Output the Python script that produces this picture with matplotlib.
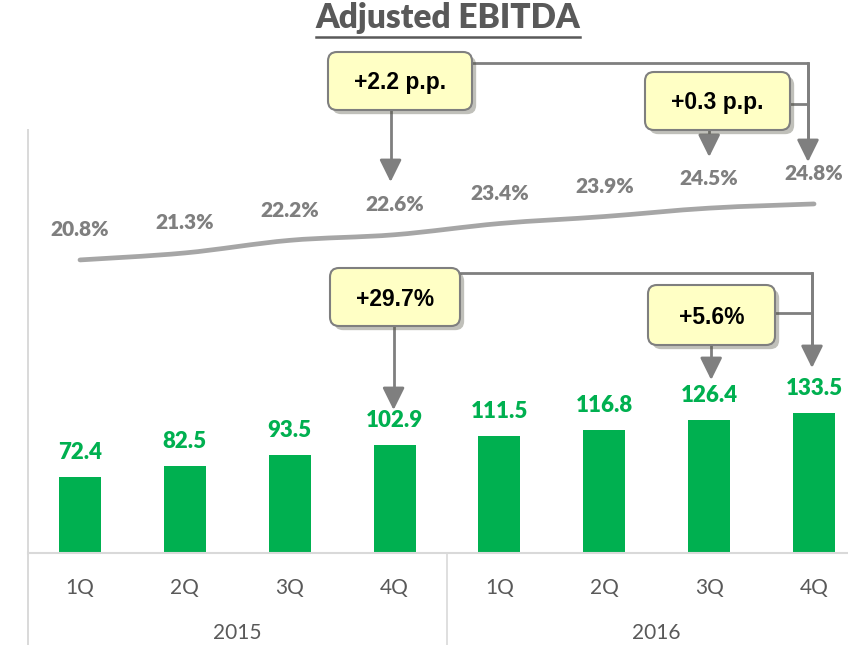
import matplotlib
matplotlib.use("Agg")
import matplotlib.pyplot as plt
from matplotlib.lines import Line2D
from matplotlib.patches import FancyBboxPatch, PathPatch
from matplotlib.path import Path
from matplotlib.transforms import IdentityTransform
import matplotlib.patheffects as pe

# data
quarters = ["1Q", "2Q", "3Q", "4Q", "1Q", "2Q", "3Q", "4Q"]
years = ["2015", "2016"]
ebitda = [72.4, 82.5, 93.5, 102.9, 111.5, 116.8, 126.4, 133.5]
margin = [20.8, 21.3, 22.2, 22.6, 23.4, 23.9, 24.5, 24.8]
callouts = ["+2.2 p.p.", "+0.3 p.p.", "+29.7%", "+5.6%"]

GREEN = "#00B050"
GRAY_LINE = "#A6A6A6"
GRAY_TXT = "#7F7F7F"
DARK_TXT = "#595959"
AXIS_CLR = "#D9D9D9"
BOX_FILL = "#FFFFC5"
W, H = 848, 645

fig = plt.figure(figsize=(W / 100, H / 100), dpi=100)
ax = fig.add_axes([27.57 / W, (H - 553) / H, 838.9 / W, 423 / H])
ax2 = ax.twinx()

x = list(range(len(ebitda)))
ax.bar(x, ebitda, width=0.40, color=GREEN, zorder=2)
ax.set_xlim(-0.5, 7.5)
ax.set_ylim(0, 403)
ax2.set_ylim(-0.13, 30.08)

# smoothed margin line (Catmull-Rom drawn as cubic Bezier through the points)
pts = list(zip(x, margin))
verts = [pts[0]]
codes = [Path.MOVETO]
for k in range(len(pts) - 1):
    p0 = pts[k - 1] if k > 0 else pts[k]
    p1, p2 = pts[k], pts[k + 1]
    p3 = pts[k + 2] if k + 2 < len(pts) else pts[k + 1]
    c1 = (p1[0] + (p2[0] - p0[0]) / 6, p1[1] + (p2[1] - p0[1]) / 6)
    c2 = (p2[0] - (p3[0] - p1[0]) / 6, p2[1] - (p3[1] - p1[1]) / 6)
    verts += [c1, c2, p2]
    codes += [Path.CURVE4] * 3
ax2.add_patch(PathPatch(Path(verts, codes), fill=False, ec=GRAY_LINE, lw=3.4,
                        capstyle="round", joinstyle="round"))

for i, v in enumerate(ebitda):
    ax.annotate(f"{v:.1f}", (i, v), xytext=(0, 13), textcoords="offset points",
                ha="center", va="baseline", color=GREEN, fontsize=16,
                fontweight="heavy", family="Lato")
for i, v in enumerate(margin):
    ax2.annotate(f"{v:.1f}%", (i, v), xytext=(0, 17), textcoords="offset points",
                 ha="center", va="baseline", color=GRAY_TXT, fontsize=15,
                 fontweight="heavy", family="Lato")

for a in (ax, ax2):
    for s in a.spines.values():
        s.set_visible(False)
    a.set_xticks([])
    a.set_yticks([])

# category axis
tr = ax.get_xaxis_transform()
ax.plot([-0.5, 7.5], [0, 0], color=AXIS_CLR, lw=1.5, transform=tr, clip_on=False)
ax.plot([-0.495, -0.495], [1, -0.22], color=AXIS_CLR, lw=1.4, transform=tr, clip_on=False)
ax.plot([3.5, 3.5], [0, -0.22], color=AXIS_CLR, lw=1.2, transform=tr, clip_on=False)
for i, q in enumerate(quarters):
    ax.text(i, -35 / 423, q, transform=tr, ha="center", va="center",
            fontsize=15, color=DARK_TXT, family="Lato")
for j, yr in enumerate(years):
    ax.text(1.5 + 4 * j, -80 / 423, yr, transform=tr, ha="center", va="center",
            fontsize=15, color=DARK_TXT, family="Lato")

# title with underline
title = fig.text(448 / W, 1 - 18 / H, "Adjusted EBITDA", ha="center", va="center",
                 fontsize=24, fontweight="heavy", color=DARK_TXT, family="Lato")
fig.canvas.draw()
bb = title.get_window_extent()
fig.add_artist(Line2D([bb.x0, bb.x1], [H - 37, H - 37], lw=1.8, color=DARK_TXT,
                      transform=IdentityTransform()))


def px(xp, yp):
    return (xp, H - yp)


def box(x0, y0, x1, y1, label):
    p = FancyBboxPatch(px(x0, y1), x1 - x0, y1 - y0,
                       boxstyle="round,pad=0,rounding_size=9",
                       fc=BOX_FILL, ec=GRAY_TXT, lw=1.5, zorder=5,
                       transform=IdentityTransform())
    p.set_path_effects([pe.SimplePatchShadow(offset=(3, -3), alpha=0.35), pe.Normal()])
    fig.add_artist(p)
    fig.text((x0 + x1) / 2 / W, 1 - ((y0 + y1) / 2 + 2) / H, label, ha="center",
             va="center", fontsize=16.5, fontweight="bold", color="black",
             family="Liberation Sans", zorder=6)


def poly(pts):
    xs = [p[0] for p in pts]
    ys = [H - p[1] for p in pts]
    fig.add_artist(Line2D(xs, ys, lw=2, color=GRAY_TXT, transform=IdentityTransform(),
                          zorder=4))


def arrow(xp, y_from, y_to):
    fig.add_artist(Line2D([xp, xp], [H - y_from, H - y_to + 8], lw=2, color=GRAY_TXT,
                          transform=IdentityTransform(), zorder=4))
    ax.annotate("", xy=px(xp, y_to), xycoords="figure pixels",
                xytext=px(xp, y_to - 20), textcoords="figure pixels",
                arrowprops=dict(arrowstyle="-|>,head_length=0.85,head_width=0.42",
                                color=GRAY_TXT, lw=2, mutation_scale=16,
                                shrinkA=0, shrinkB=0))


def cx(i):
    return ax.transData.transform((i, 0))[0]


# margin callouts
poly([(472, 63), (808, 63), (808, 150)])
poly([(790, 104), (808, 104)])
arrow(808, 63, 162)
arrow(cx(3) - 4, 110, 182)
arrow(cx(6), 130, 157)
box(328, 52, 472, 110, callouts[0])
box(645, 72, 790, 130, callouts[1])

# EBITDA callouts
poly([(460, 273), (812, 273), (812, 350)])
poly([(775, 313), (812, 313)])
arrow(812, 273, 368)
arrow(cx(3) - 1, 326, 410)
arrow(cx(6) + 2, 345, 380)
box(330, 268, 460, 326, callouts[2])
box(648, 285, 775, 345, callouts[3])

fig.savefig("out.png", dpi=100)
